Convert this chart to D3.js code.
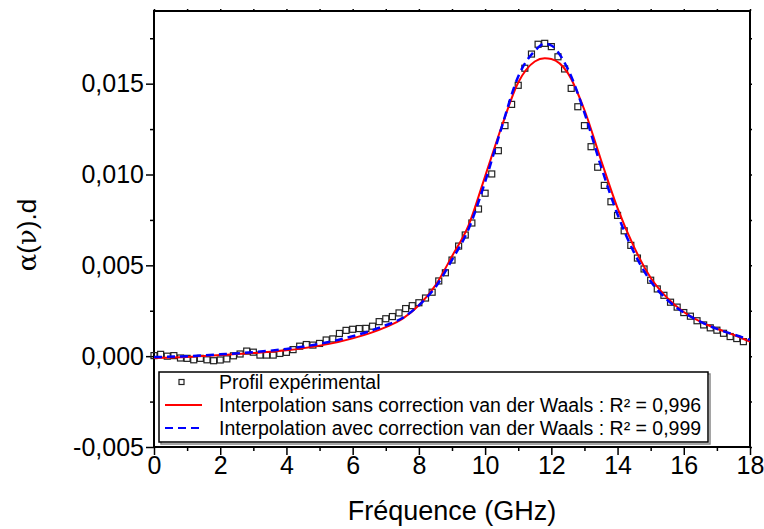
<!DOCTYPE html>
<meta charset="utf-8">
<style>
body { margin: 0; background: #fff; }
svg text { font-family: "Liberation Sans", Arial, sans-serif; fill: #000; }
.frame { fill: none; stroke: #000; stroke-width: 2px; }
.axis .domain { display: none; }
.axis .tick line { stroke: #000; stroke-width: 1.5px; }
.axis text { font-size: 25px; }
.legend text { font-size: 19.5px; }
</style>
<body>
<script src="https://cdn.jsdelivr.net/npm/d3@7"></script>
<script>

// experimental profile, sampled every 0.2 GHz
var expFreq = d3.range(0, 90).map(function(i) { return +(i * 0.2).toFixed(1); });
var expAlpha = [
  0.00003, 0.00010, 0.00000, 0.00003, -0.00010, -0.00012, -0.00020, -0.00012, -0.00020, -0.00025,
  -0.00021, -0.00015, 0.00002, 0.00012, 0.00028, 0.00022, 0.00006, 0.00006, 0.00006, 0.00015,
  0.00021, 0.00036, 0.00055, 0.00064, 0.00061, 0.00070, 0.00089, 0.00095, 0.00125, 0.00142,
  0.00148, 0.00152, 0.00153, 0.00165, 0.00190, 0.00206, 0.00218, 0.00238, 0.00262, 0.00278,
  0.00294, 0.00320, 0.00352, 0.00414, 0.00459, 0.00529, 0.00606, 0.00667, 0.00733, 0.00810,
  0.00897, 0.01003, 0.01131, 0.01269, 0.01386, 0.01491, 0.01585, 0.01663, 0.01717, 0.01722,
  0.01704, 0.01648, 0.01581, 0.01474, 0.01373, 0.01269, 0.01153, 0.01040, 0.00940, 0.00850,
  0.00775, 0.00690, 0.00610, 0.00540, 0.00480, 0.00418, 0.00370, 0.00335, 0.00297, 0.00270,
  0.00240, 0.00220, 0.00195, 0.00172, 0.00156, 0.00143, 0.00126, 0.00108, 0.00097, 0.00080
];

// fitted curves
var fitFreq = [0, 1, 2, 3, 4, 5, 6, 7, 7.5, 8, 8.5, 9, 9.5, 10, 10.5, 11, 11.5, 11.8, 12,
  12.5, 13, 13.5, 14, 14.5, 15, 15.5, 16, 16.5, 17, 17.5, 18];
var fitSans = [-0.00010, -0.00004, 0.00006, 0.00017, 0.00032, 0.00058, 0.00098, 0.00160, 0.00205,
  0.00280, 0.00390, 0.00550, 0.00720, 0.00990, 0.01264, 0.01506, 0.01622, 0.01640, 0.01636,
  0.01558, 0.01355, 0.01080, 0.00815, 0.00600, 0.00432, 0.00321, 0.00243, 0.00190, 0.00151,
  0.00118, 0.00080];
var fitAvec = [-0.00005, 0.00000, 0.00010, 0.00022, 0.00040, 0.00068, 0.00110, 0.00170, 0.00210,
  0.00280, 0.00380, 0.00530, 0.00700, 0.00960, 0.01260, 0.01540, 0.01680, 0.01720, 0.01710,
  0.01580, 0.01340, 0.01045, 0.00780, 0.00570, 0.00412, 0.00310, 0.00240, 0.00190, 0.00150,
  0.00120, 0.00090];

var legendLabels = [
  "Profil expérimental",
  "Interpolation sans correction van der Waals : R² = 0,996",
  "Interpolation avec correction van der Waals : R² = 0,999"
];

var margin = {top: 11, right: 14, bottom: 82, left: 154},
    width = 764 - margin.left - margin.right,
    height = 529 - margin.top - margin.bottom;

var fr = d3.formatLocale({decimal: ",", thousands: " ", grouping: [3], currency: ["", ""], minus: "-"});

var x = d3.scaleLinear().domain([0, 18]).range([0, width]);
var y = d3.scaleLinear().domain([-0.005, 0.019]).range([height, 0]);

var svg = d3.select("body").append("svg")
    .attr("width", 764)
    .attr("height", 529)
  .append("g")
    .attr("transform", "translate(" + margin.left + "," + margin.top + ")");

var xMajor = d3.range(0, 19, 2), xMinor = d3.range(1, 18, 2);
var yMajor = [-0.005, 0, 0.005, 0.01, 0.015], yMinor = [-0.0025, 0.0025, 0.0075, 0.0125, 0.0175];

// minor ticks
svg.append("g").attr("class", "axis").attr("transform", "translate(0," + height + ")")
    .call(d3.axisBottom(x).tickValues(xMinor).tickSize(4).tickFormat(""));
svg.append("g").attr("class", "axis")
    .call(d3.axisLeft(y).tickValues(yMinor).tickSize(4).tickFormat(""));
svg.append("g").attr("class", "axis")
    .call(d3.axisTop(x).tickValues(xMinor.concat(xMajor)).tickSize(2).tickFormat(""));
svg.append("g").attr("class", "axis").attr("transform", "translate(" + width + ",0)")
    .call(d3.axisRight(y).tickValues(yMinor.concat(yMajor)).tickSize(2).tickFormat(""));

// major ticks with labels
svg.append("g").attr("class", "axis").attr("transform", "translate(0," + height + ")")
    .call(d3.axisBottom(x).tickValues(xMajor).tickSize(8).tickPadding(1).tickFormat(d3.format("d")));
svg.append("g").attr("class", "axis")
    .call(d3.axisLeft(y).tickValues(yMajor).tickSize(8).tickPadding(2).tickFormat(fr.format(".3f")));

svg.append("rect")
    .attr("class", "frame")
    .attr("width", width)
    .attr("height", height);

// experimental points
svg.append("g")
  .selectAll("rect")
  .data(expFreq)
  .join("rect")
    .attr("x", function(d) { return x(d) - 3; })
    .attr("y", function(d, i) { return y(expAlpha[i]) - 3; })
    .attr("width", 6)
    .attr("height", 6)
    .attr("fill", "none")
    .attr("stroke", "#222")
    .attr("stroke-width", 1.2);

var line = function(vals) {
  return d3.line()
      .x(function(d) { return x(d); })
      .y(function(d, i) { return y(vals[i]); })
      .curve(d3.curveMonotoneX)(fitFreq);
};

svg.append("path")
    .attr("d", line(fitSans))
    .attr("fill", "none")
    .attr("stroke", "#ff0000")
    .attr("stroke-width", 2);

svg.append("path")
    .attr("d", line(fitAvec))
    .attr("fill", "none")
    .attr("stroke", "#0000ff")
    .attr("stroke-width", 2.5)
    .attr("stroke-dasharray", "8,5");

// axis titles
svg.append("text")
    .attr("x", width / 2)
    .attr("y", height + 73)
    .attr("text-anchor", "middle")
    .attr("font-size", 27)
    .text("Fréquence (GHz)");

var yt = svg.append("text")
    .attr("transform", "translate(" + (-118) + "," + (height / 2 + 6) + ") rotate(-90)")
    .attr("text-anchor", "middle")
    .attr("font-size", 26);
yt.append("tspan").attr("font-family", "DejaVu Serif").text("α");
yt.append("tspan").text("(");
yt.append("tspan").attr("font-family", "DejaVu Serif").text("ν");
yt.append("tspan").text(").d");

// legend
var lg = svg.append("g")
    .attr("class", "legend")
    .attr("transform", "translate(5,361)");

lg.append("rect")
    .attr("x", 2).attr("y", 2)
    .attr("width", 549).attr("height", 70)
    .attr("fill", "none")
    .attr("stroke", "#888")
    .attr("stroke-width", 1.5);
lg.append("rect")
    .attr("width", 549).attr("height", 70)
    .attr("fill", "#fff")
    .attr("stroke", "#000")
    .attr("stroke-width", 1.5);

var rowY = [10, 33, 56];
lg.append("rect")
    .attr("x", 20).attr("y", rowY[0] - 2.5)
    .attr("width", 5).attr("height", 5)
    .attr("fill", "none").attr("stroke", "#222").attr("stroke-width", 1.2);
lg.append("line")
    .attr("x1", 6).attr("x2", 43).attr("y1", rowY[1]).attr("y2", rowY[1])
    .attr("stroke", "#ff0000").attr("stroke-width", 2);
lg.append("line")
    .attr("x1", 6).attr("x2", 43).attr("y1", rowY[2]).attr("y2", rowY[2])
    .attr("stroke", "#0000ff").attr("stroke-width", 2).attr("stroke-dasharray", "8,5");

lg.selectAll("text.lab")
  .data(legendLabels)
  .join("text")
    .attr("class", "lab")
    .attr("x", 60)
    .attr("y", function(d, i) { return rowY[i] + 7; })
    .text(function(d) { return d; });

</script>
</body>
